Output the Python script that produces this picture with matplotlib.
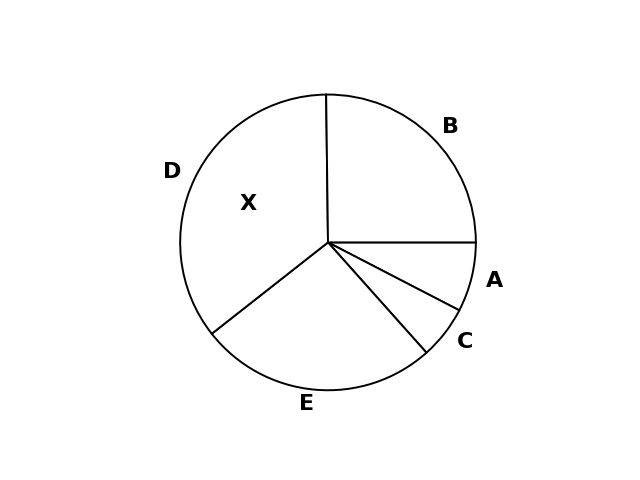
import matplotlib.pyplot as plt

# slices, drawn clockwise from 3 o'clock
labels = ['A', 'C', 'E', 'D', 'B']
sizes = [7.6, 5.8, 26.0, 35.4, 25.2]

fig, ax = plt.subplots(figsize=(6.4, 4.8), dpi=100)

wedges, texts = ax.pie(sizes, labels=labels, startangle=0, counterclock=False,
                       colors=['white'] * len(sizes),
                       wedgeprops={'edgecolor': 'black', 'linewidth': 1.4},
                       textprops={'fontsize': 16, 'fontweight': 'bold'})

# extra label inside the D slice
ax.text(-0.54, 0.26, 'X', fontsize=16, fontweight='bold', ha='center', va='center')

fig.savefig('out.png')
